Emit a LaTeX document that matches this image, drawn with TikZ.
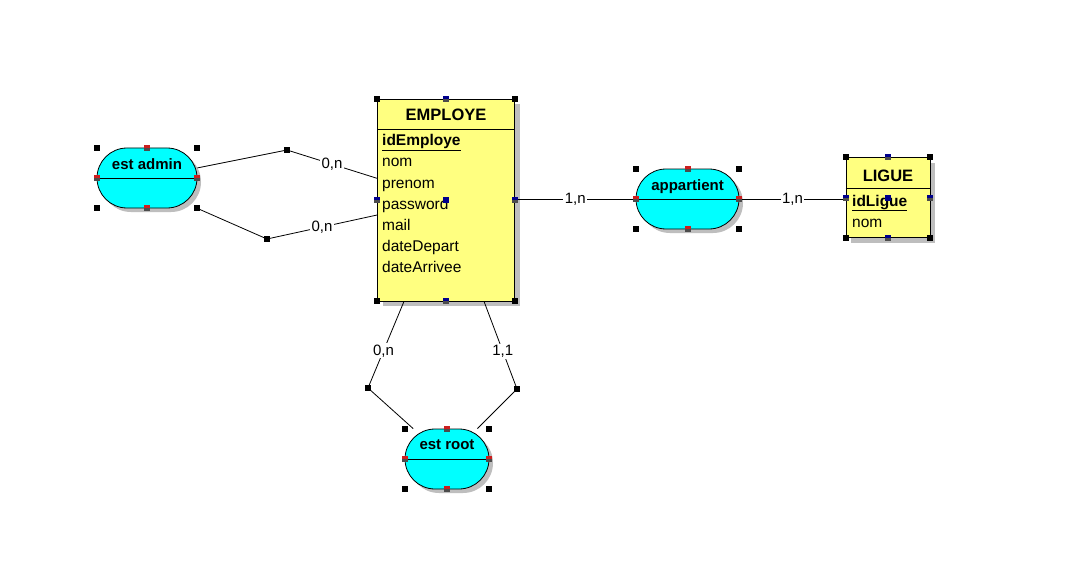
\documentclass[tikz,border=0pt]{standalone}
\usepackage{fontspec}
\setmainfont{Liberation Sans}
\usetikzlibrary{shadows}

\definecolor{jaune}{RGB}{255,255,128}
\definecolor{bleuciel}{RGB}{0,255,255}
\definecolor{gris}{RGB}{190,190,190}
\definecolor{marine}{RGB}{0,0,140}
\definecolor{rouge}{RGB}{205,30,30}

\tikzset{
  entite/.style={draw, fill=jaune, line width=0.8pt, inner sep=0pt,
    general shadow={fill=gris, shadow xshift=5pt, shadow yshift=-5pt}},
  assoc/.style={draw, fill=bleuciel, line width=0.8pt, inner sep=0pt, rounded corners=30pt,
    general shadow={fill=gris, shadow xshift=4pt, shadow yshift=-4pt}},
  attr/.style={inner sep=0pt, anchor=base west, font=\fontsize{15.5}{18}\selectfont},
  titre/.style={inner sep=0pt, anchor=base, font=\fontsize{16.5}{20}\selectfont\bfseries},
  nomassoc/.style={inner sep=0pt, anchor=base, font=\fontsize{15}{18}\selectfont\bfseries},
  card/.style={fill=white, inner sep=1.5pt, font=\fontsize{15}{18}\selectfont},
  lien/.style={line width=0.8pt}
}

% handle: black square, or a two-colour mark
\newcommand\poignee[2][black]{\fill[#1] ([shift={(-3,-3)}]#2) rectangle ([shift={(3,3)}]#2);}
\newcommand\repere[2]{\fill[#2] ([shift={(-3,-3)}]#1) rectangle ([shift={(3,0)}]#1);
    \fill[black!70] ([shift={(-3,0)}]#1) rectangle ([shift={(3,3)}]#1);}

\begin{document}
\begin{tikzpicture}[x=1pt, y=-1pt]

    \fill[white] (0,0) rectangle (1068,567);
    \useasboundingbox (0,0) rectangle (1068,567);

% entities
    \node[entite, minimum width=137pt, minimum height=202pt] (employe) at (446,200) {};
    \node[entite, minimum width=84pt, minimum height=80pt] (ligue) at (888,197.5) {};
    \draw[lien] (employe.west |- 0,129) -- (employe.east |- 0,129);
    \draw[lien] (ligue.west |- 0,188) -- (ligue.east |- 0,188);

% associations
    \node[assoc, minimum width=100pt, minimum height=60pt] (admin) at (147,178) {};
    \node[assoc, minimum width=103pt, minimum height=60pt] (appart) at (687.5,199) {};
    \node[assoc, minimum width=84pt, minimum height=60pt] (root) at (447,459) {};
    \draw[lien] (admin.west) -- (admin.east);
    \draw[lien] (appart.west) -- (appart.east);
    \draw[lien] (root.west) -- (root.east);

% titles
    \node[titre] (employeT) at (446,121) {EMPLOYE};
    \node[titre] (ligueT) at (888,181) {LIGUE};
    \node[nomassoc] (adminT) at (147,169) {est admin};
    \node[nomassoc] (appartT) at (687.5,190) {appartient};
    \node[nomassoc] (rootT) at (447,449) {est root};

% attributes
    \draw   (382,146) node[attr] (idEmploye) {\textbf{\underline{idEmploye}}}
            (382,167) node[attr] (nomE) {nom}
            (382,188) node[attr] (prenom) {prenom}
            (382,209) node[attr] (password) {password}
            (382,230) node[attr] (mail) {mail}
            (382,251) node[attr] (dateDepart) {dateDepart}
            (382,272) node[attr] (dateArrivee) {dateArrivee};
    \draw   (852,206) node[attr] (idLigue) {\textbf{\underline{idLigue}}}
            (852,227) node[attr] (nomL) {nom};

% bends of the links
    \coordinate (b1) at (287,150);
    \coordinate (b2) at (267,239);
    \coordinate (b3) at (368,388);
    \coordinate (b4) at (517,389);

% links
    \draw[lien] (admin) -- (b1) -- node[card] (c1) {0,n} (employe);
    \draw[lien] (admin.south east) -- (b2) -- node[card] (c2) {0,n} (employe);
    \draw[lien] (employe.east |- appart) -- node[card] (c3) {1,n} (appart.west);
    \draw[lien] (appart.east) -- node[card] (c4) {1,n} (ligue.west |- appart);
    \draw[lien] (root) -- (b3) -- node[card, pos=0.43] (c5) {0,n} (employe);
    \draw[lien] (root) -- (b4) -- node[card, pos=0.43] (c6) {1,1} (employe);

% handles
    \poignee{b1} \poignee{b2} \poignee{b3} \poignee{b4}
    \poignee{employe.north west} \poignee{employe.north east}
    \poignee{employe.south west} \poignee{employe.south east}
    \poignee{ligue.north west} \poignee{ligue.north east}
    \poignee{ligue.south west} \poignee{ligue.south east}
    \repere{employe.north}{marine} \repere{employe.south}{marine}
    \repere{employe.west}{marine} \repere{employe.east}{marine}
    \poignee[marine]{employe.center}
    \repere{ligue.north}{marine} \repere{ligue.south}{marine}
    \repere{ligue.west}{marine} \repere{ligue.east}{marine}
    \poignee[marine]{ligue.center}
    \poignee{admin.north west} \poignee{admin.north east}
    \poignee{admin.south west} \poignee{admin.south east}
    \poignee{appart.north west} \poignee{appart.north east}
    \poignee{appart.south west} \poignee{appart.south east}
    \poignee{root.north west} \poignee{root.north east}
    \poignee{root.south west} \poignee{root.south east}
    \repere{admin.north}{rouge} \repere{admin.south}{rouge}
    \repere{admin.west}{rouge} \repere{admin.east}{rouge}
    \repere{appart.north}{rouge} \repere{appart.south}{rouge}
    \repere{appart.west}{rouge} \repere{appart.east}{rouge}
    \repere{root.north}{rouge} \repere{root.south}{rouge}
    \repere{root.west}{rouge} \repere{root.east}{rouge}
\end{tikzpicture}
\end{document}
